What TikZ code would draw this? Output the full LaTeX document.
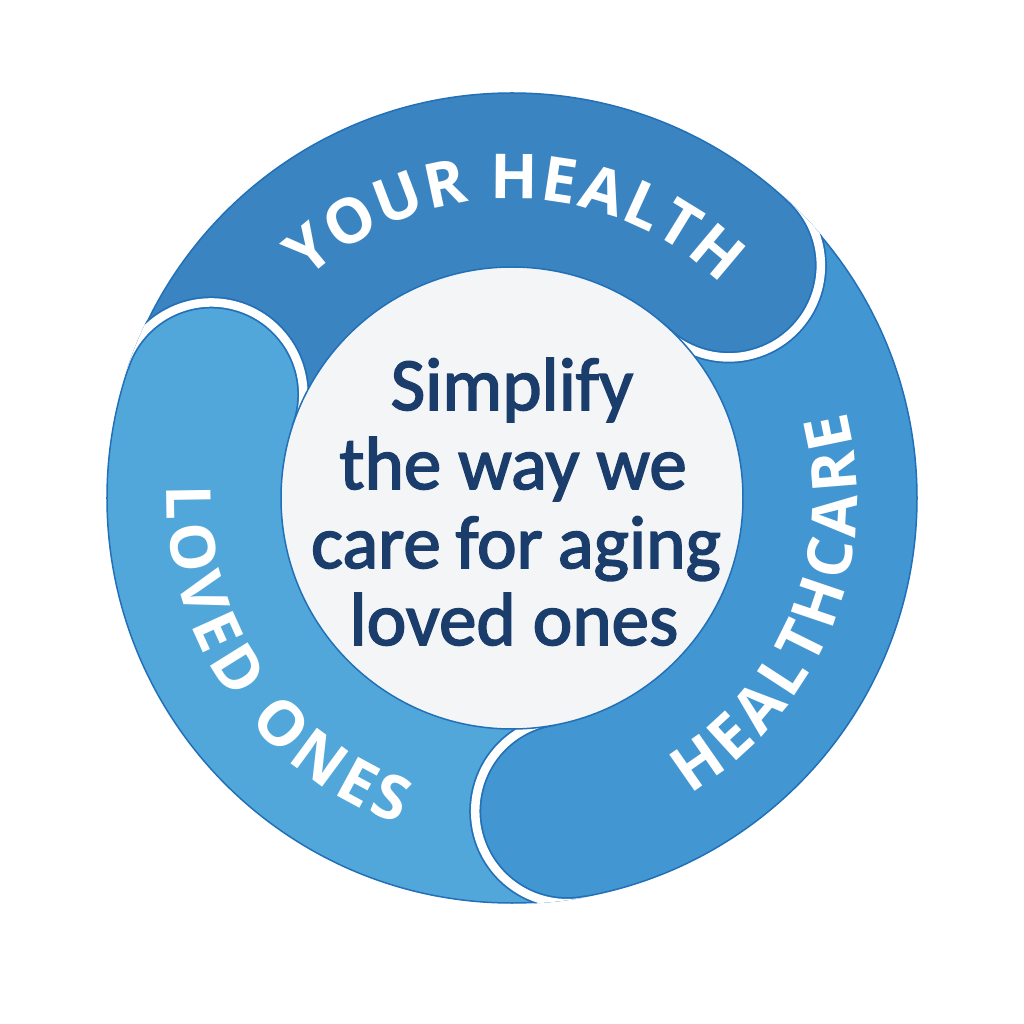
\documentclass[tikz,border=0pt]{standalone}
\usepackage{fontspec}
\setmainfont{Open Sans}
\newfontfamily\ctrfont[FakeBold=2.2]{Carlito}
\newcommand\lblfmt{\bfseries\fontsize{62}{62}\selectfont}
\usetikzlibrary{decorations.text}
\definecolor{topc}{HTML}{3A84C2}
\definecolor{rightc}{HTML}{4296D1}
\definecolor{leftc}{HTML}{51A7DA}
\definecolor{edgec}{HTML}{2270B8}
\definecolor{ctrc}{HTML}{F4F5F6}
\definecolor{navy}{HTML}{1B3D6C}
\begin{document}
\begin{tikzpicture}[x=1pt,y=1pt,
  gapdark/.style={draw=edgec,line width=12pt},
  gapwhite/.style={draw=white,line width=8.5pt},
  ctrtext/.style={anchor=base,text=navy,font=\ctrfont\fontsize{75}{78}\selectfont,inner sep=0pt},
  ringlabel/.style={decorate,decoration={text along path,text color=white,text align=fit to path}}]
\useasboundingbox (-512,-526) rectangle (512,498);
\fill[white] (-512,-526) rectangle (512,498);
% bodies
\fill[topc] (161:405pt) arc[start angle=161,end angle=47,radius=405pt] -- (47:231pt) arc[start angle=47,end angle=161,radius=231pt] -- cycle;
\fill[rightc] (47:405pt) arc[start angle=47,end angle=-80,radius=405pt] -- (-80:231pt) arc[start angle=-80,end angle=47,radius=231pt] -- cycle;
\fill[leftc] (280:405pt) arc[start angle=280,end angle=161,radius=405pt] -- (161:231pt) arc[start angle=161,end angle=280,radius=231pt] -- cycle;
% heads
\begin{scope}
\clip (0,0) circle[radius=405pt];
\fill[topc] (47:318pt) circle[radius=87pt];
\fill[rightc] (-80:318pt) circle[radius=87pt];
\fill[leftc] (161:318pt) circle[radius=87pt];
\end{scope}
\draw[edgec,line width=1.5pt] (0,0) circle[radius=405pt];
\begin{scope}
\clip (0,0) circle[radius=406pt];
\begin{scope}[shift={(47:318pt)}]
\draw[gapdark] (49:92pt) arc[start angle=49,end angle=-135,radius=92pt];
\draw[gapwhite] (49:92pt) arc[start angle=49,end angle=-135,radius=92pt];
\end{scope}
\begin{scope}[shift={(-80:318pt)}]
\draw[gapdark] (-78:92pt) arc[start angle=-78,end angle=-262,radius=92pt];
\draw[gapwhite] (-78:92pt) arc[start angle=-78,end angle=-262,radius=92pt];
\end{scope}
\begin{scope}[shift={(161:318pt)}]
\draw[gapdark] (163:92pt) arc[start angle=163,end angle=-21,radius=92pt];
\draw[gapwhite] (163:92pt) arc[start angle=163,end angle=-21,radius=92pt];
\end{scope}
\end{scope}
% centre
\fill[ctrc,draw=edgec,line width=1.5pt] (0,0) circle[radius=231pt];
\node[ctrtext] (l1) at (0,88) {Simplify};
\node[ctrtext] (l2) at (1,9) {the way we};
\node[ctrtext] (l3) at (4,-70) {care\hspace{0.2em}for\hspace{0.2em}aging};
\node[ctrtext] (l4) at (2,-147) {loved ones};
% ring labels
\path[ringlabel,decoration={text={|\lblfmt|YOUR HEALTH}}] (133:299pt) arc[start angle=133,end angle=45.5,radius=299pt];
\path[ringlabel,decoration={text={|\lblfmt|HEALTHCARE}}] (-59:345pt) arc[start angle=-59,end angle=14.5,radius=345pt];
\path[ringlabel,decoration={text={|\lblfmt|LOVED ONES}}] (178:345pt) arc[start angle=178,end angle=251,radius=345pt];
\end{tikzpicture}
\end{document}
